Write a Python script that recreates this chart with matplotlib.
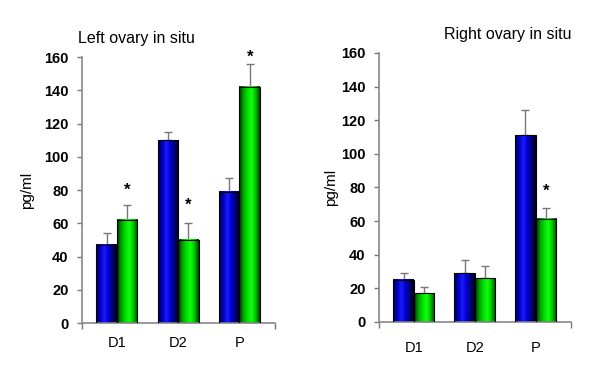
import numpy as np
import matplotlib
matplotlib.use('Agg')
import matplotlib.pyplot as plt
from matplotlib.colors import LinearSegmentedColormap

plt.rcParams['font.family'] = ['Liberation Sans', 'DejaVu Sans']

# data
categories = ['D1', 'D2', 'P']
left_blue = [47, 110, 79]
left_blue_err = [7, 5, 8]
left_green = [62, 50, 142]
left_green_err = [9, 10, 14]
left_stars = [80, 71, 160]          # star positions over the green bars
right_blue = [25, 29, 111]
right_blue_err = [4, 8, 15]
right_green = [17, 26, 61.5]
right_green_err = [4, 7, 6]
right_stars = [None, None, 78]
yticks = [0, 20, 40, 60, 80, 100, 120, 140, 160]

blue_cmap = LinearSegmentedColormap.from_list(
    'b', ['#000050', '#0000c0', '#1a1aff', '#0000d0', '#000070', '#000010'])
green_cmap = LinearSegmentedColormap.from_list(
    'g', ['#003000', '#00a000', '#00e000', '#10ff10', '#00c000', '#004000'])
grad = np.linspace(0, 1, 64).reshape(1, -1)
width = 0.335


def shaded_bar(ax, x0, h, cmap):
    ax.imshow(grad, cmap=cmap, extent=(x0, x0 + width, 0, h),
              aspect='auto', zorder=2, interpolation='bilinear')
    ax.bar(x0, h, width, align='edge', facecolor='none',
           edgecolor='black', linewidth=0.8, zorder=3)


def panel(ax, blue, blue_err, green, green_err, stars, title, title_x, xpad, ypad):
    x = np.arange(len(categories))
    for i in x:
        shaded_bar(ax, i - width, blue[i], blue_cmap)
        shaded_bar(ax, i, green[i], green_cmap)
    ax.errorbar(x - width / 2, blue, yerr=[np.zeros(3), blue_err], fmt='none',
                ecolor='#777777', elinewidth=1, capsize=3, capthick=1, zorder=1)
    ax.errorbar(x + width / 2, green, yerr=[np.zeros(3), green_err], fmt='none',
                ecolor='#777777', elinewidth=1, capsize=3, capthick=1, zorder=1)
    for i, s in enumerate(stars):
        if s is not None:
            ax.text(i + width / 2, s, '*', ha='center', va='center',
                    fontsize=12, fontweight='bold')
    ax.set_xlim(-0.57, 2.58)
    ax.set_ylim(0, 160)
    ax.set_yticks(yticks)
    ax.set_yticklabels([str(t) for t in yticks], fontweight='bold', fontsize=10.5)
    ax.set_xticks([-0.57, 2.58], minor=True)
    ax.set_xticks(x)
    ax.set_xticklabels(categories, fontsize=10.5)
    ax.tick_params(axis='x', which='major', length=0, pad=xpad)
    ax.tick_params(axis='x', which='minor', length=4, color='#777777', width=1)
    ax.tick_params(axis='y', length=3.6, color='#777777', width=1, pad=6)
    for s in ['top', 'right']:
        ax.spines[s].set_visible(False)
    for s in ['left', 'bottom']:
        ax.spines[s].set_color('#888888')
        ax.spines[s].set_linewidth(1.2)
    ax.set_ylabel('pg/ml', fontsize=11, labelpad=ypad)
    ax.set_title(title, fontsize=11.5, loc='left', x=title_x, pad=10)


fig = plt.figure(figsize=(6, 3.73), dpi=100)
ax1 = fig.add_axes([0.1367, 0.134, 0.3216, 0.713])
ax2 = fig.add_axes([0.6317, 0.137, 0.32, 0.721])
panel(ax1, left_blue, left_blue_err, left_green, left_green_err, left_stars,
      'Left ovary in situ', -0.02, 9, 7)
panel(ax2, right_blue, right_blue_err, right_green, right_green_err, right_stars,
      'Right ovary in situ', 0.34, 14, 2)
fig.savefig('out.png', dpi=100)
